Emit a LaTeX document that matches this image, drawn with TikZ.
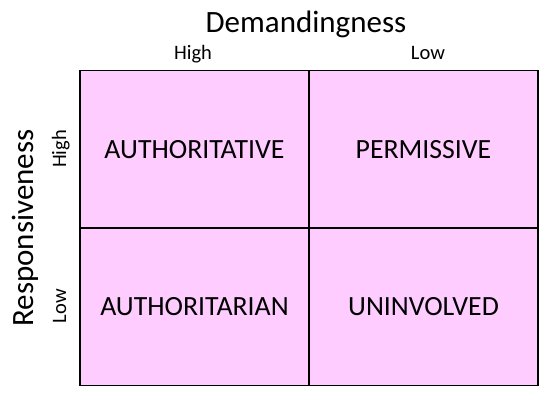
\documentclass[tikz,border=0pt]{standalone}
\usepackage{fontspec}
\setmainfont{Carlito}
\definecolor{cellpink}{HTML}{FFCCFF}
\tikzset{
  cell/.style={draw=black, line width=1.4pt, fill=cellpink, minimum width=229pt, minimum height=157.5pt, inner sep=0pt, font=\fontsize{27.8}{30}\selectfont},
  axistitle/.style={font=\fontsize{31}{34}\selectfont, inner sep=0pt},
  axislevel/.style={font=\fontsize{20.5}{24}\selectfont, inner sep=0pt}
}
\begin{document}
\begin{tikzpicture}[x=1pt, y=-1pt]
  \useasboundingbox (0,0) rectangle (550,400);

  % --- the four cells ---
  \node[cell] (authoritative) at (194.5,149.25) {AUTHORITATIVE};
  \node[cell] (permissive) at (423.5,149.25) {PERMISSIVE};
  \node[cell] (authoritarian) at (194.5,306.75) {AUTHORITARIAN};
  \node[cell] (uninvolved) at (423.5,306.75) {UNINVOLVED};

  % --- demandingness (top) ---
  \node[axistitle, anchor=base] (demand) at (306,32) {Demandingness};
  \node[axislevel, anchor=base] (dhigh) at (193,59) {High};
  \node[axislevel, anchor=base] (dlow) at (428,59) {Low};

  % --- responsiveness (left) ---
  \node[axistitle, anchor=base, rotate=90] (resp) at (34,228) {Responsiveness};
  \node[axislevel, anchor=base, rotate=90] (rhigh) at (66,149) {High};
  \node[axislevel, anchor=base, rotate=90] (rlow) at (66,306) {Low};

\end{tikzpicture}
\end{document}
